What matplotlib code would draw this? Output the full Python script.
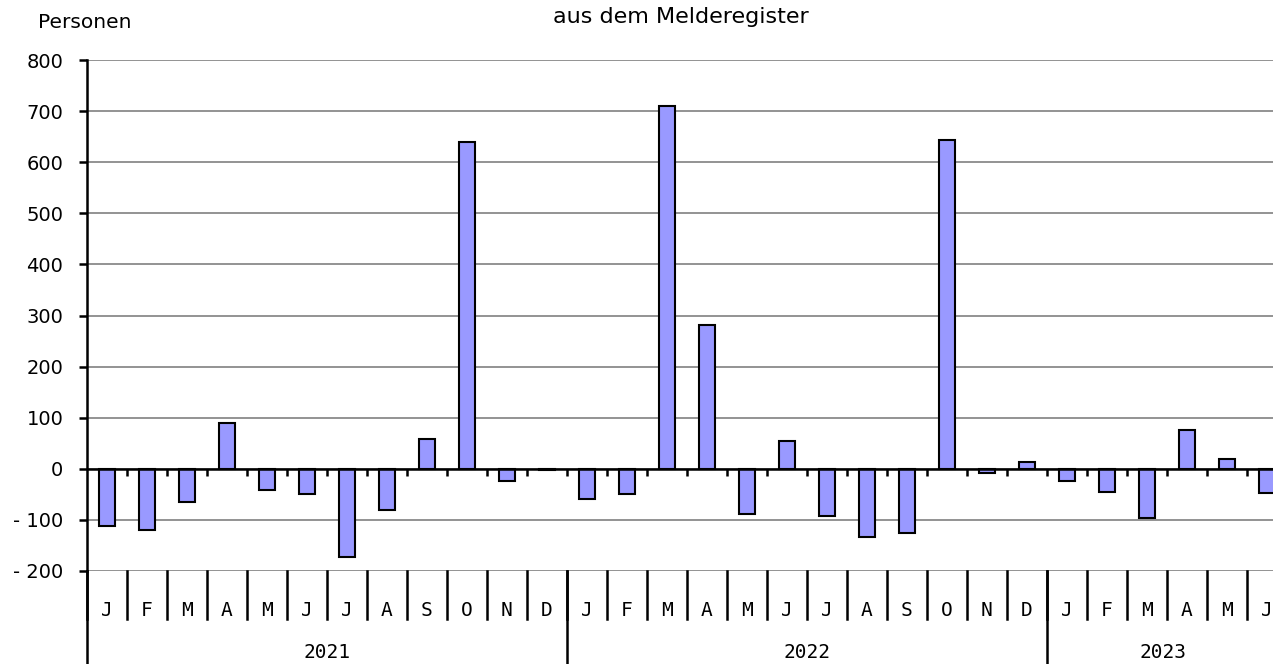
import matplotlib.pyplot as plt
import numpy as np

# monthly values Jan 2021 - Jun 2023
months = ["J", "F", "M", "A", "M", "J", "J", "A", "S", "O", "N", "D",
          "J", "F", "M", "A", "M", "J", "J", "A", "S", "O", "N", "D",
          "J", "F", "M", "A", "M", "J"]
values = [-112, -120, -65, 90, -42, -50, -172, -80, 58, 640, -23, -2,
          -60, -50, 710, 282, -88, 54, -93, -134, -126, 643, -8, 13,
          -24, -46, -96, 75, 20, -48]
years = ["2021", "2022", "2023"]
year_starts = [0, 12, 24]
year_ends = [12, 24, 36]
yticks = [-200, -100, 0, 100, 200, 300, 400, 500, 600, 700, 800]

W, H = 1273, 664
fig = plt.figure(figsize=(W / 100, H / 100), dpi=100)
ax = fig.add_axes([87 / W, (H - 571) / H, 1200 / W, 511 / H])

x = np.arange(len(values))
ax.bar(x, values, width=0.42, color="#9999FF", edgecolor="black", linewidth=1.5, zorder=3)

ax.set_xlim(-0.5, len(values) - 0.5)
ax.set_ylim(-200, 800)
ax.set_yticks(yticks)
ax.set_yticklabels([("- %d" % abs(v)) if v < 0 else str(v) for v in yticks], fontsize=14)
for v in yticks:
    ax.axhline(v, color="#808080", lw=1.2, zorder=1)
ax.axhline(0, color="black", lw=1.8, zorder=4)

# small ticks on zero line
bounds = np.arange(len(values)) + 0.5
ax.vlines(bounds, -15, 0, color="black", lw=1.8, zorder=4)

ax.set_xticks([])
ax.tick_params(axis="y", length=6, width=1.8, pad=11)
for s in ["top", "right", "bottom"]:
    ax.spines[s].set_visible(False)
ax.spines["left"].set_linewidth(1.8)

tr = ax.get_xaxis_transform()
for i, m in enumerate(months):
    ax.text(i, -0.078, m, transform=tr, ha="center", va="center", fontsize=14,
            family="DejaVu Sans Mono", clip_on=False)
for b in np.arange(len(values)) - 0.5:
    ax.plot([b, b], [0, -0.094], transform=tr, color="black", lw=1.8, clip_on=False)
for y, s, e in zip(years, year_starts, year_ends):
    ax.plot([s - 0.5, s - 0.5], [0, -0.2], transform=tr, color="black", lw=1.8, clip_on=False)
    xm = (s + e - 1) / 2 if e <= len(values) else 26.4
    ax.text(xm, -0.16, y, transform=tr, ha="center", va="center", fontsize=14,
            family="DejaVu Sans Mono", clip_on=False)

fig.text(38 / W, 1 - 22 / H, "Personen", fontsize=14.5, ha="left", va="center")
fig.text(681 / W, 1 - 17 / H, "aus dem Melderegister", fontsize=16, ha="center", va="center")

fig.savefig("out.png", dpi=100)
